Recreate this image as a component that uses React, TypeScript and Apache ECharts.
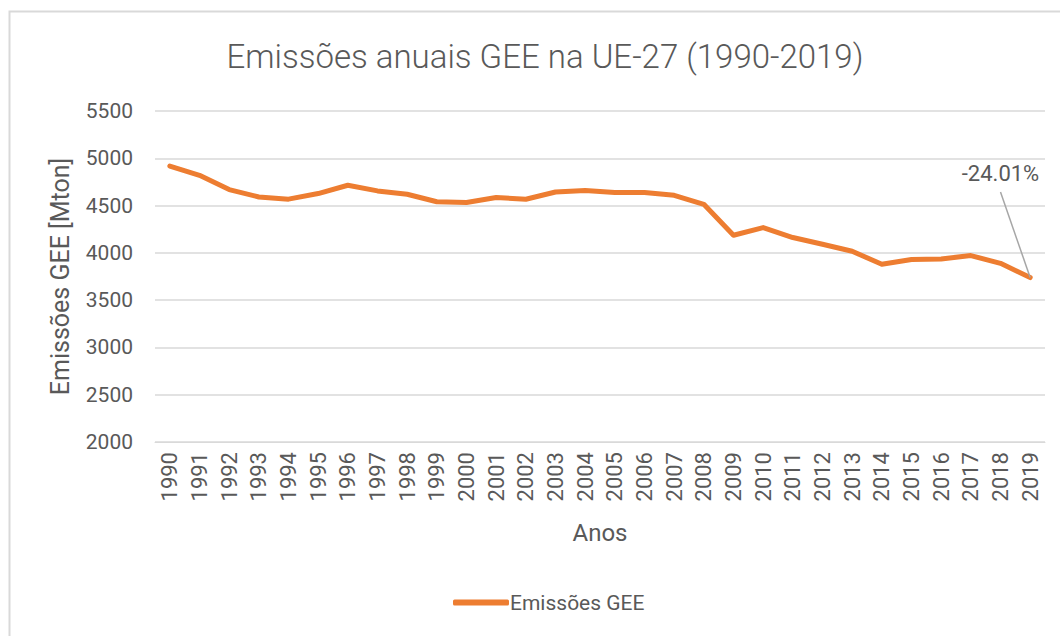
import React, { useEffect, useRef } from "react";
import * as echarts from "echarts";

const years = [
  "1990", "1991", "1992", "1993", "1994", "1995", "1996", "1997", "1998", "1999",
  "2000", "2001", "2002", "2003", "2004", "2005", "2006", "2007", "2008", "2009",
  "2010", "2011", "2012", "2013", "2014", "2015", "2016", "2017", "2018", "2019",
];
const emissions = [
  4918, 4820, 4669, 4591, 4568, 4627, 4715, 4655, 4620, 4540,
  4532, 4585, 4567, 4644, 4660, 4638, 4638, 4608, 4513, 4186,
  4267, 4162, 4091, 4017, 3879, 3929, 3936, 3971, 3889, 3739,
];
const yTicks = { min: 2000, max: 5500, interval: 500 };
const annotationText = "-24.01%";
const annotationLineStart = [27.8, 4644];
const annotationTextPos = [28.35, 4840];

const FONT = "Roboto, 'Open Sans', sans-serif";
const TEXT = "#595959";

export default function App() {
  const ref = useRef<HTMLDivElement>(null);
  useEffect(() => {
    document.body.style.margin = "0";
    const chart = echarts.init(ref.current!, null, { renderer: "svg" });
    const last = years.length - 1;
    chart.setOption({
      animation: false,
      backgroundColor: "#ffffff",
      textStyle: { fontFamily: FONT, color: TEXT },
      title: {
        text: "Emissões anuais GEE na UE-27 (1990-2019)",
        left: 540,
        textAlign: "center",
        top: 35,
        textStyle: { fontFamily: FONT, fontSize: 33, fontWeight: 300, color: TEXT },
      },
      graphic: [
        {
          type: "rect",
          shape: { x: 9.5, y: 11.5, width: 1100, height: 700 },
          style: { fill: "none", stroke: "#d9d9d9", lineWidth: 2 },
          silent: true,
        },
      ],
      legend: {
        bottom: 18,
        left: 448,
        itemWidth: 56,
        itemHeight: 6,
        itemGap: 10,
        icon: "roundRect",
        textStyle: { fontFamily: FONT, fontSize: 21, color: TEXT, padding: [0, 0, 0, -4] },
        data: ["Emissões GEE"],
      },
      grid: { left: 155, right: 15, top: 111, bottom: 194 },
      xAxis: {
        type: "category",
        data: years,
        boundaryGap: true,
        name: "Anos",
        nameLocation: "middle",
        nameGap: 79,
        nameTextStyle: { fontFamily: FONT, fontSize: 24, color: TEXT },
        axisLine: { show: true, lineStyle: { color: "#d9d9d9", width: 1 } },
        axisTick: { show: false },
        axisLabel: { rotate: 90, fontFamily: FONT, fontSize: 22, color: TEXT, margin: 10 },
      },
      yAxis: {
        type: "value",
        min: yTicks.min,
        max: yTicks.max,
        interval: yTicks.interval,
        name: "Emissões GEE [Mton]",
        nameLocation: "middle",
        nameGap: 82,
        nameTextStyle: { fontFamily: FONT, fontSize: 25, color: TEXT },
        axisLine: { show: false },
        axisTick: { show: false },
        axisLabel: {
          fontFamily: FONT,
          fontSize: 21,
          color: TEXT,
          margin: 22,
          formatter: (v: number) => String(v),
        },
        splitLine: { lineStyle: { color: "#d9d9d9", width: 1.5 } },
      },
      series: [
        {
          name: "Emissões GEE",
          type: "line",
          data: emissions,
          symbol: "none",
          lineStyle: { color: "#ed7d31", width: 5, cap: "round", join: "round" },
          itemStyle: { color: "#ed7d31" },
          markLine: {
            silent: true,
            symbol: "none",
            label: { show: false },
            lineStyle: { color: "#a6a6a6", width: 1.5, type: "solid" },
            data: [
              [
                { coord: annotationLineStart },
                { coord: [last, emissions[last]] },
              ],
            ],
          },
          markPoint: {
            silent: true,
            symbol: "circle",
            symbolSize: 1,
            itemStyle: { color: "rgba(0,0,0,0)" },
            label: {
              show: true,
              position: "inside",
              formatter: annotationText,
              fontFamily: FONT,
              fontSize: 22,
              color: TEXT,
            },
            data: [{ coord: annotationTextPos }],
          },
        },
      ],
    });
    return () => chart.dispose();
  }, []);
  return <div ref={ref} style={{ width: 1060, height: 636 }} />;
}
